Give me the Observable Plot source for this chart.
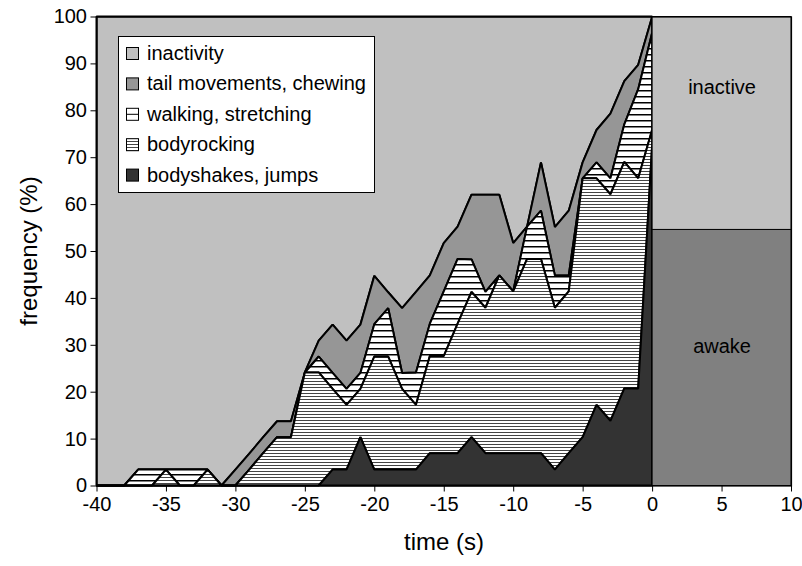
<!DOCTYPE html>
<html>
<head>
<meta charset="utf-8">
<script src="https://cdn.jsdelivr.net/npm/d3@7"></script>
<script src="https://cdn.jsdelivr.net/npm/@observablehq/plot@0.6"></script>
<style>
  body { margin: 0; background: #fff; }
  #wrap { position: relative; width: 802px; height: 566px; font-family: "Liberation Sans", Arial, sans-serif; }
  #legend { position: absolute; left: 118px; top: 36px; }
  .axtitle { position: absolute; font-size: 24px; color: #000; white-space: nowrap; }
</style>
</head>
<body>
<svg width="0" height="0" style="position:absolute">
  <defs>
    <pattern id="patWide" patternUnits="userSpaceOnUse" width="8" height="6">
      <rect width="8" height="6" fill="#ffffff"/>
      <rect y="0" width="8" height="1.5" fill="#000000"/>
    </pattern>
    <pattern id="patNarrow" patternUnits="userSpaceOnUse" width="8" height="3">
      <rect width="8" height="3" fill="#ffffff"/>
      <rect y="0" width="8" height="1" fill="#444444"/>
    </pattern>
  </defs>
</svg>
<div id="wrap"></div>
<script>
// ---- data ----
const times = [-40,-39,-38,-37,-36,-35,-34,-33,-32,-31,-30,-29,-28,-27,-26,-25,-24,-23,-22,-21,-20,-19,-18,-17,-16,-15,-14,-13,-12,-11,-10,-9,-8,-7,-6,-5,-4,-3,-2,-1,0];
const bodyshakes = [0,0,0,0,0,0,0,0,0,0,0,0,0,0,0,0,0,
  3.4,3.4,10.3,3.4,3.4,3.4,3.4,6.9,6.9,6.9,10.3,6.9,6.9,6.9,6.9,6.9,3.4,6.9,10.3,17.2,13.8,20.7,20.7,72.4];
const bodyrocking = [0,0,0,0,0,
  3.4,0,0,3.4,0,0,3.4,6.9,10.3,10.3,24.1,24.1,17.2,13.8,10.3,24.1,24.1,17.2,13.8,20.7,
  20.7,27.6,31.0,31.0,37.9,34.5,41.4,41.4,34.5,34.5,55.2,48.3,48.3,48.3,44.8,3.4];
const walking = [0,0,0,3.4,3.4,0,3.4,3.4,0,0,0,0,0,0,0,0,
  3.4,3.4,3.4,3.4,6.9,10.3,3.4,6.9,6.9,13.8,13.8,6.9,3.4,0,0,6.9,10.3,6.9,3.4,0,3.4,3.4,8.0,19.0,20.7];
const tailMovements = [0,0,0,0,0,0,0,0,0,0,
  3.4,3.4,3.4,3.4,3.4,0,3.4,10.3,10.3,10.3,10.3,3.4,13.8,17.2,10.3,10.3,6.9,13.8,20.7,17.2,
  10.3,0,10.3,10.3,13.8,3.4,6.9,13.8,9.2,5.2,3.4];
const categories = ["bodyshakes, jumps", "bodyrocking", "walking, stretching", "tail movements, chewing", "inactivity"];
const panelStates = ["awake", "inactive"];
const panelShares = [54.6, 45.4];
const panelSpan = [0, 10];
const xTicks = [-40,-35,-30,-25,-20,-15,-10,-5,0,5,10];
const yTicks = [0,10,20,30,40,50,60,70,80,90,100];

// ---- styles ----
const fills = {
  "bodyshakes, jumps": "#333333",
  "bodyrocking": "url(#patNarrow)",
  "walking, stretching": "url(#patWide)",
  "tail movements, chewing": "#969696",
  "inactivity": "#c0c0c0"
};
const panelFills = {"awake": "#808080", "inactive": "#c0c0c0"};

// ---- stack ----
const seriesValues = [bodyshakes, bodyrocking, walking, tailMovements];
const rows = [];
times.forEach((t, i) => {
  let lo = 0;
  seriesValues.forEach((vals, k) => {
    rows.push({t, cat: categories[k], lo, hi: lo + vals[i]});
    lo += vals[i];
  });
  rows.push({t, cat: "inactivity", lo: Math.min(lo, 100), hi: 100});
});
let acc = 0;
const panelRows = panelStates.map((s, i) => {
  const r = {state: s, x1: panelSpan[0], x2: panelSpan[1], lo: acc, hi: acc + panelShares[i]};
  acc += panelShares[i];
  return r;
});

const drawOrder = ["inactivity", "tail movements, chewing", "walking, stretching", "bodyrocking", "bodyshakes, jumps"];
const areaMarks = drawOrder.map(c => Plot.areaY(rows.filter(d => d.cat === c), {
  x: "t", y1: "lo", y2: "hi", fill: fills[c], stroke: "#000", strokeWidth: 2, strokeLinejoin: "miter"
}));
const panelMarks = panelStates.map(s => Plot.rect(panelRows.filter(d => d.state === s), {
  x1: "x1", x2: "x2", y1: "lo", y2: "hi", fill: panelFills[s], stroke: "#000", strokeWidth: 1
}));

const chart = Plot.plot({
  width: 802, height: 566,
  marginLeft: 96.5, marginRight: 11, marginTop: 16.5, marginBottom: 80.5,
  style: {fontFamily: "Liberation Sans, Arial, sans-serif", fontSize: "20px", background: "white", color: "black"},
  x: {domain: [-40, 10]},
  y: {domain: [0, 100]},
  marks: [
    ...areaMarks,
    ...panelMarks,
    Plot.text(panelRows.filter(d => d.state === "inactive"), {x: d => (d.x1 + d.x2) / 2, y: d => (d.lo + d.hi) / 2, text: "state", dy: -36, fontSize: 20, fill: "#000"}),
    Plot.text(panelRows.filter(d => d.state === "awake"), {x: d => (d.x1 + d.x2) / 2, y: d => (d.lo + d.hi) / 2, text: "state", dy: -11, fontSize: 20, fill: "#000"}),
    Plot.frame({stroke: "#000", strokeWidth: 1.2}),
    Plot.axisX({ticks: xTicks, tickSize: 6, tickPadding: 5, fontSize: 20, label: null, tickFormat: d => String(d).replace("−", "-")}),
    Plot.axisY({ticks: yTicks, tickSize: 6, tickPadding: 4, fontSize: 20, label: null})
  ]
});
const wrap = document.getElementById("wrap");
wrap.appendChild(chart);

// axis titles
const xt = document.createElement("div");
xt.className = "axtitle"; xt.textContent = "time (s)";
xt.style.left = "444px"; xt.style.top = "542px"; xt.style.transform = "translate(-50%,-50%)";
wrap.appendChild(xt);
const yt = document.createElement("div");
yt.className = "axtitle"; yt.textContent = "frequency (%)";
yt.style.left = "29px"; yt.style.top = "251px"; yt.style.transform = "translate(-50%,-50%) rotate(-90deg)";
wrap.appendChild(yt);

// legend
const ns = "http://www.w3.org/2000/svg";
const lg = document.createElementNS(ns, "svg");
lg.setAttribute("id", "legend"); lg.setAttribute("width", 258); lg.setAttribute("height", 158);
const box = document.createElementNS(ns, "rect");
box.setAttribute("x", 0.5); box.setAttribute("y", 0.5); box.setAttribute("width", 256); box.setAttribute("height", 156);
box.setAttribute("fill", "#fff"); box.setAttribute("stroke", "#000");
lg.appendChild(box);
const legendOrder = ["inactivity", "tail movements, chewing", "walking, stretching", "bodyrocking", "bodyshakes, jumps"];
legendOrder.forEach((c, i) => {
  const cy = 17 + i * 30.4;
  const sw = document.createElementNS(ns, "rect");
  sw.setAttribute("x", 8.5); sw.setAttribute("y", cy - 5.5); sw.setAttribute("width", 12); sw.setAttribute("height", 12);
  sw.setAttribute("fill", c === "walking, stretching" ? "#fff" : fills[c]); sw.setAttribute("stroke", "#000");
  lg.appendChild(sw);
  if (c === "walking, stretching") {
    const ln = document.createElementNS(ns, "line");
    ln.setAttribute("x1", 8.5); ln.setAttribute("x2", 20.5); ln.setAttribute("y1", cy + 0.5); ln.setAttribute("y2", cy + 0.5);
    ln.setAttribute("stroke", "#000");
    lg.appendChild(ln);
  }
  const tx = document.createElementNS(ns, "text");
  tx.setAttribute("x", 29); tx.setAttribute("y", cy + 7);
  tx.setAttribute("font-family", "Liberation Sans, Arial, sans-serif"); tx.setAttribute("font-size", 20);
  tx.textContent = c;
  lg.appendChild(tx);
});
wrap.appendChild(lg);
</script>
</body>
</html>
